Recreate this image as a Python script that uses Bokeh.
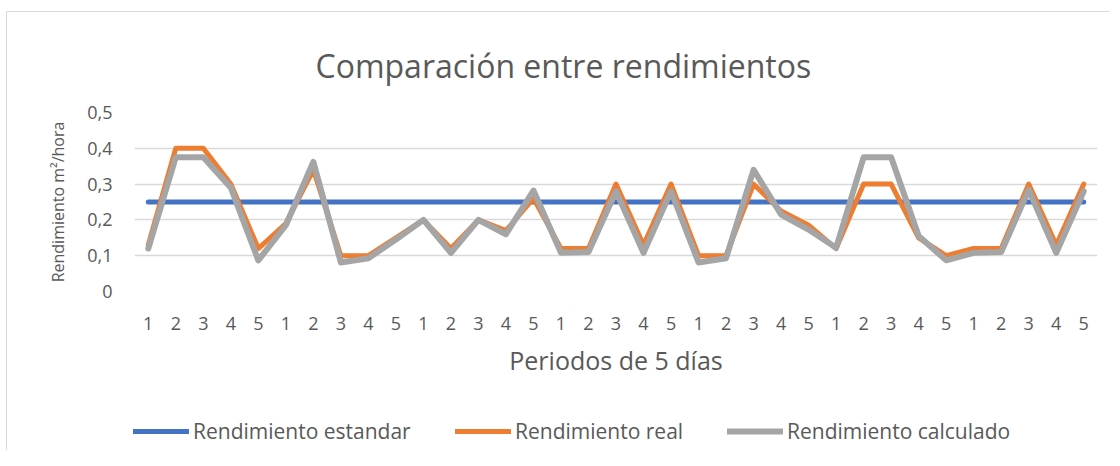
from bokeh.plotting import figure
from bokeh.layouts import column
from bokeh.models import (Range1d, FixedTicker, CustomJSTickFormatter, Legend, LegendItem)
from bokeh.embed import file_html
from bokeh.resources import INLINE

# ---------------- data ----------------
x_pos = list(range(1, 36))
tick_labels = ["1", "2", "3", "4", "5", "1", "2", "3", "4", "5",
               "1", "2", "3", "4", "5", "1", "2", "3", "4", "5",
               "1", "2", "3", "4", "5", "1", "2", "3", "4", "5",
               "1", "2", "3", "4", "5"]
estandar = [0.25, 0.25, 0.25, 0.25, 0.25, 0.25, 0.25, 0.25, 0.25, 0.25,
            0.25, 0.25, 0.25, 0.25, 0.25, 0.25, 0.25, 0.25, 0.25, 0.25,
            0.25, 0.25, 0.25, 0.25, 0.25, 0.25, 0.25, 0.25, 0.25, 0.25,
            0.25, 0.25, 0.25, 0.25, 0.25]
real = [0.13, 0.40, 0.40, 0.30, 0.12, 0.19, 0.34, 0.10, 0.10, 0.15,
        0.20, 0.12, 0.20, 0.17, 0.26, 0.12, 0.12, 0.30, 0.13, 0.30,
        0.10, 0.10, 0.30, 0.225, 0.185, 0.12, 0.30, 0.30, 0.15, 0.10,
        0.12, 0.12, 0.30, 0.13, 0.30]
calculado = [0.12, 0.375, 0.375, 0.29, 0.087, 0.185, 0.362, 0.081, 0.093, 0.145,
             0.20, 0.108, 0.20, 0.16, 0.282, 0.108, 0.11, 0.28, 0.108, 0.28,
             0.081, 0.093, 0.34, 0.215, 0.173, 0.122, 0.375, 0.375, 0.155, 0.087,
             0.108, 0.11, 0.284, 0.108, 0.28]
y_ticks = [0, 0.1, 0.2, 0.3, 0.4, 0.5]
series_names = ["Rendimiento estandar", "Rendimiento real", "Rendimiento calculado"]
series_colors = ["#4472C4", "#ED7D31", "#A5A5A5"]
series_widths = [5, 5, 6]

FONT = "Open Sans"
TXT = "#595959"
GRID = "#D9D9D9"

main = figure(width=1104, height=389, output_backend="svg", toolbar_location=None,
              x_range=Range1d(0.5, 35.5), y_range=Range1d(0, 0.5),
              min_border_left=127, min_border_right=14, min_border_top=100,
              min_border_bottom=110)
main.outline_line_color = None
main.frame_align = False
main.styles = {"border-top": "1px solid #D9D9D9", "border-left": "1px solid #D9D9D9"}

# title
main.title.text = "Comparación entre rendimientos"
main.title.text_font = FONT
main.title.text_font_size = "32px"
main.title.text_font_style = "normal"
main.title.text_color = TXT
main.title.align = "left"
main.title.offset = 181
main.title.standoff = 52

# axes
xa = main.xaxis[0]
xa.ticker = FixedTicker(ticks=x_pos)
xa.formatter = CustomJSTickFormatter(args=dict(labels=tick_labels),
                                     code="return labels[Math.round(tick) - 1];")
xa.axis_line_color = None
xa.major_tick_line_color = None
xa.minor_tick_line_color = None
xa.major_tick_out = 0
xa.major_tick_in = 0
xa.minor_tick_out = 0
xa.major_label_standoff = 25
xa.major_label_text_font = FONT
xa.major_label_text_font_size = "18px"
xa.major_label_text_color = TXT
xa.axis_label = "Periodos de 5 días"
xa.axis_label_text_font = FONT
xa.axis_label_text_font_size = "25px"
xa.axis_label_text_font_style = "normal"
xa.axis_label_text_color = TXT
xa.axis_label_standoff = 10

ya = main.yaxis[0]
ya.ticker = FixedTicker(ticks=y_ticks)
ya.formatter = CustomJSTickFormatter(code="return tick === 0 ? '0' : tick.toFixed(1).replace('.', ',');")
ya.axis_line_color = None
ya.major_tick_line_color = None
ya.minor_tick_line_color = None
ya.major_tick_out = 0
ya.major_tick_in = 0
ya.minor_tick_out = 0
ya.major_label_standoff = 22
ya.major_label_text_font = FONT
ya.major_label_text_font_size = "18px"
ya.major_label_text_color = TXT
ya.axis_label = "Rendimiento m²/hora"
ya.axis_label_text_font = FONT
ya.axis_label_text_font_size = "16px"
ya.axis_label_text_font_style = "normal"
ya.axis_label_text_color = TXT
ya.axis_label_standoff = 15

main.xgrid.grid_line_color = None
main.ygrid.grid_line_color = GRID
main.ygrid.grid_line_width = 1.5

# lines
for vals, col, w in zip([estandar, real, calculado], series_colors, series_widths):
    main.line(x_pos, vals, line_color=col, line_width=w, line_cap="round", line_join="round")

# legend strip (separate figure, no axes, so the legend is not clipped)
leg = figure(width=1104, height=50, output_backend="svg", toolbar_location=None,
             x_range=Range1d(-2, -1), y_range=Range1d(-2, -1),
             x_axis_location=None, y_axis_location=None,
             min_border=0, min_border_left=0, min_border_right=0,
             min_border_top=0, min_border_bottom=0)
leg.frame_align = False
leg.grid.visible = False
leg.outline_line_color = None
leg.styles = {"border-left": "1px solid #D9D9D9"}

for name, vals, col, w, xoff in zip(series_names, [estandar, real, calculado],
                                    series_colors, series_widths, [126, 448, 720]):
    # same series drawn outside the visible range: only its legend swatch shows
    r = leg.line(x_pos, vals, line_color=col, line_width=w, line_cap="round")
    lg = Legend(items=[LegendItem(label=name, renderers=[r])],
                location=(xoff, 5), orientation="horizontal",
                padding=0, margin=0, spacing=0, label_standoff=4,
                glyph_width=56, glyph_height=24,
                border_line_color=None, background_fill_alpha=0,
                label_text_font=FONT, label_text_font_size="21px",
                label_text_color=TXT)
    leg.add_layout(lg, "center")

p = column(main, leg, spacing=0, margin=(11, 0, 0, 6))

open("out.html", "w").write(file_html(p, INLINE))
